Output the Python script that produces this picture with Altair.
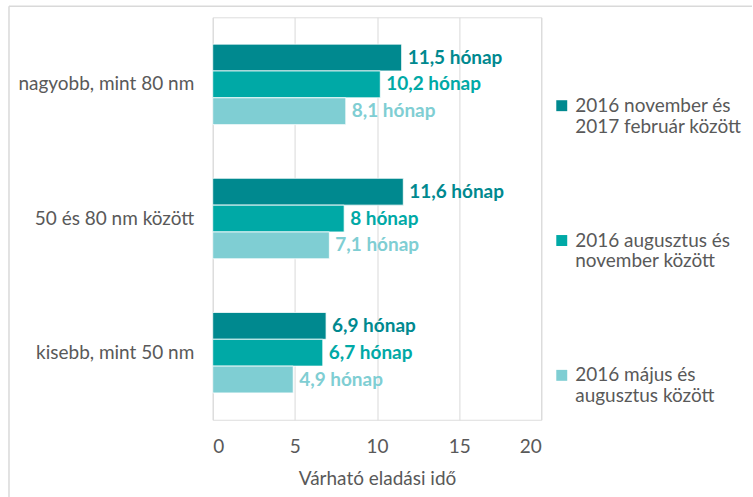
import altair as alt
import pandas as pd

categories = ["nagyobb, mint 80 nm", "50 és 80 nm között", "kisebb, mint 50 nm"]
series = ["2016 november és|2017 február között",
          "2016 augusztus és|november között",
          "2016 május és|augusztus között"]
values = {
    series[0]: [11.5, 11.6, 6.9],
    series[1]: [10.2, 8.0, 6.7],
    series[2]: [8.1, 7.1, 4.9],
}
colors = ["#00898F", "#00A9A6", "#7FCED3"]
x_ticks = [0, 5, 10, 15, 20]

rows = []
for s in series:
    for c, v in zip(categories, values[s]):
        rows.append({"cat": c, "series": s, "value": v,
                     "label": (f"{v:g}".replace(".", ",")) + " hónap"})
df = pd.DataFrame(rows)

FONT = "Lato"
GRAY = "#595959"
FS = 19

y = alt.Y("cat:N", sort=categories, title=None,
          scale=alt.Scale(paddingInner=0.4, paddingOuter=0.2),
          axis=alt.Axis(ticks=False, domain=False, labelFontSize=FS, labelColor=GRAY,
                        labelPadding=19, labelFont=FONT, labelLimit=300))
yoff = alt.YOffset("series:N", sort=series, scale=alt.Scale(paddingInner=0))
color = alt.Color("series:N", sort=series,
                  scale=alt.Scale(domain=series, range=colors),
                  legend=alt.Legend(title=None, orient="none", legendX=340, legendY=79,
                                    symbolType="square", symbolSize=120,
                                    symbolStrokeWidth=0,
                                    labelFontSize=FS, labelColor=GRAY, labelFont=FONT,
                                    labelLimit=300, rowPadding=94, labelOffset=4,
                                    labelExpr="split(datum.label, '|')"))

base = alt.Chart(df)
bars = base.mark_bar(stroke="white", strokeWidth=0.8).encode(
    x=alt.X("value:Q", title="Várható eladási idő",
            scale=alt.Scale(domain=[0, 20]),
            axis=alt.Axis(values=x_ticks, ticks=False, domain=False, grid=True,
                          gridColor="#D9D9D9", labelFontSize=FS, labelColor=GRAY,
                          labelPadding=18, labelFont=FONT, titleFont=FONT,
                          titleFontSize=FS, titleColor=GRAY, titleFontWeight="normal",
                          titlePadding=13)),
    y=y, yOffset=yoff, color=color,
)
texts = base.mark_text(align="left", baseline="middle", dx=6, fontSize=FS,
                       fontWeight="bold", font=FONT).encode(
    x="value:Q", y=y, yOffset=yoff, text="label:N",
    color=alt.Color("series:N", sort=series,
                    scale=alt.Scale(domain=series, range=colors), legend=None),
)

frame_df = pd.DataFrame({"k": [0]})
top_line = alt.Chart(frame_df).mark_rule(color="#D9D9D9", strokeWidth=1.5).encode(
    x=alt.value(-204), x2=alt.value(540), y=alt.value(-11))
left_line = alt.Chart(frame_df).mark_rule(color="#D9D9D9", strokeWidth=1.5).encode(
    x=alt.value(-204), y=alt.value(-11), y2=alt.value(481))

chart = alt.layer(top_line, left_line, bars, texts).properties(
    width=329, height=403).configure_view(stroke=None).configure(
    padding={"left": 8, "top": 5, "right": 0, "bottom": 0})

chart.save("out.html", embed_options={"renderer": "svg", "actions": False})
